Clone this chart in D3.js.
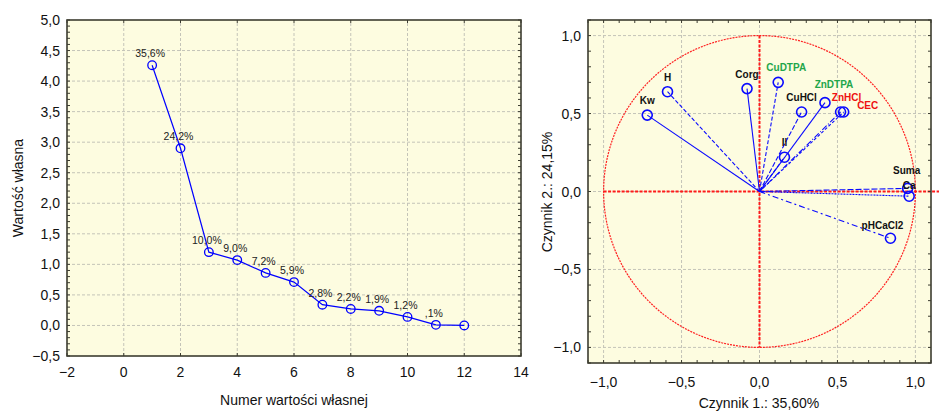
<!DOCTYPE html>
<html>
<head>
<meta charset="utf-8">
<script src="https://cdn.jsdelivr.net/npm/d3@7"></script>
<style>
  body { margin: 0; background: #fff; }
  svg { font-family: "Liberation Sans", Arial, sans-serif; }
</style>
</head>
<body>
<svg id="chart" width="939" height="412"></svg>
<script>
// scree plot data
const eigenNumbers = [1, 2, 3, 4, 5, 6, 7, 8, 9, 10, 11, 12];
const eigenValues = [4.26, 2.90, 1.20, 1.07, 0.86, 0.71, 0.34, 0.27, 0.24, 0.14, 0.01, 0.00];
const percentLabels = ["35,6%", "24,2%", "10,0%", "9,0%", "7,2%", "5,9%", "2,8%", "2,2%", "1,9%", "1,2%", ",1%", ""];
const screeXTicks = [-2, 0, 2, 4, 6, 8, 10, 12, 14];
const screeYTicks = [-0.5, 0, 0.5, 1, 1.5, 2, 2.5, 3, 3.5, 4, 4.5, 5];

// factor loadings
const varNames = ["Kw", "H", "Corg", "CuDTPA", "CuHCl", "ZnDTPA", "ZnHCl", "CEC", "Il", "Suma", "Ca", "pHCaCl2"];
const factor1 = [-0.72, -0.59, -0.08, 0.12, 0.27, 0.42, 0.52, 0.54, 0.16, 0.95, 0.96, 0.84];
const factor2 = [0.49, 0.64, 0.66, 0.70, 0.51, 0.57, 0.51, 0.51, 0.22, 0.02, -0.03, -0.30];
const loadTicks = [-1, -0.5, 0, 0.5, 1];

// label styling
const labelColor = { CuDTPA: "#1fa64a", ZnDTPA: "#1fa64a", ZnHCl: "#ee1111", CEC: "#ee1111" };
const labelNudge = { CuDTPA: [8, 0], ZnDTPA: [9, -4], ZnHCl: [6, 0], CEC: [24, 8], Suma: [-1, -3], Ca: [0, 4], pHCaCl2: [-8, 2] };
const lineDash = {
  Kw: null, H: "4,2", Corg: null, CuDTPA: "4,2", CuHCl: "5,2", ZnDTPA: null,
  ZnHCl: "6,2,1,2", CEC: "3,2", Il: "4,2", Suma: "6,2", Ca: "2,1", pHCaCl2: "6,3,2,3"
};

const svg = d3.select("#chart");
const fmt = (v, d) => (v < 0 ? "\u2212" : "") + Math.abs(v).toFixed(d).replace(".", ",");
const plotBg = "#fdfce0";
const frameColor = "#3c3c30";
const gridColor = "#c4c4b8";

function frame(g, x, y, xMinor, yMinor) {
  const [x0, x1] = x.range();
  const [y0, y1] = y.range();
  g.append("rect").attr("x", x0).attr("y", y1).attr("width", x1 - x0).attr("height", y0 - y1)
    .attr("fill", plotBg);
  return () => {
    // inward minor ticks on all four sides
    const t = g.append("g").attr("stroke", frameColor).attr("stroke-width", 1);
    xMinor.forEach(v => {
      t.append("line").attr("x1", x(v)).attr("x2", x(v)).attr("y1", y1).attr("y2", y1 + 3);
      t.append("line").attr("x1", x(v)).attr("x2", x(v)).attr("y1", y0).attr("y2", y0 - 3);
    });
    yMinor.forEach(v => {
      t.append("line").attr("y1", y(v)).attr("y2", y(v)).attr("x1", x0).attr("x2", x0 + 3);
      t.append("line").attr("y1", y(v)).attr("y2", y(v)).attr("x1", x1).attr("x2", x1 - 3);
    });
    g.append("rect").attr("x", x0).attr("y", y1).attr("width", x1 - x0).attr("height", y0 - y1)
      .attr("fill", "none").attr("stroke", frameColor).attr("stroke-width", 1.6);
  };
}

// ---------- left: scree plot ----------
{
  const x = d3.scaleLinear().domain([-2, 14]).range([67, 521]);
  const y = d3.scaleLinear().domain([-0.5, 5]).range([356, 20]);
  const g = svg.append("g");
  const finish = frame(g, x, y, screeXTicks, d3.range(-5, 51).map(i => i / 10));

  const grid = g.append("g").attr("stroke", gridColor).attr("stroke-dasharray", "3,2").attr("stroke-width", 1);
  screeXTicks.slice(1, -1).forEach(v => grid.append("line").attr("x1", x(v)).attr("x2", x(v)).attr("y1", y(-0.5)).attr("y2", y(5)));
  screeYTicks.slice(1, -1).forEach(v => grid.append("line").attr("y1", y(v)).attr("y2", y(v)).attr("x1", x(-2)).attr("x2", x(14)));

  const line = d3.line().x((d, i) => x(eigenNumbers[i])).y(d => y(d));
  g.append("path").datum(eigenValues).attr("d", line).attr("fill", "none").attr("stroke", "#0000ff").attr("stroke-width", 1.2);

  g.selectAll("circle.pt").data(eigenValues).enter().append("circle")
    .attr("cx", (d, i) => x(eigenNumbers[i])).attr("cy", d => y(d)).attr("r", 4.3)
    .attr("fill", "none").attr("stroke", "#0000ff").attr("stroke-width", 1.3);

  g.selectAll("text.pct").data(percentLabels).enter().append("text")
    .attr("x", (d, i) => x(eigenNumbers[i]) - 2).attr("y", (d, i) => y(eigenValues[i]) - 8)
    .attr("text-anchor", "middle").attr("font-size", 10.5).attr("fill", "#222").text(d => d);

  finish();

  g.selectAll("text.xt").data(screeXTicks).enter().append("text")
    .attr("x", d => x(d)).attr("y", 377).attr("text-anchor", "middle").attr("font-size", 14).attr("fill", "#111")
    .text(d => (d < 0 ? "\u2212" : "") + Math.abs(d));
  g.selectAll("text.yt").data(screeYTicks).enter().append("text")
    .attr("x", 60).attr("y", d => y(d) + 5).attr("text-anchor", "end").attr("font-size", 14).attr("fill", "#111")
    .text(d => fmt(d, 1));

  g.append("text").attr("x", 294).attr("y", 405).attr("text-anchor", "middle").attr("font-size", 14).attr("fill", "#111")
    .text("Numer wartości własnej");
  g.append("text").attr("transform", "translate(23,188) rotate(-90)").attr("text-anchor", "middle")
    .attr("font-size", 14).attr("fill", "#111").text("Wartość własna");
}

// ---------- right: factor loadings ----------
{
  const x = d3.scaleLinear().domain([-1.1, 1.1]).range([588, 931]);
  const y = d3.scaleLinear().domain([-1.1, 1.1]).range([363, 20]);
  const g = svg.append("g");
  const minor = d3.range(-11, 12).map(i => i / 10);
  const finish = frame(g, x, y, minor, minor);

  const grid = g.append("g").attr("stroke", gridColor).attr("stroke-dasharray", "3,2").attr("stroke-width", 1);
  loadTicks.forEach(v => {
    grid.append("line").attr("x1", x(v)).attr("x2", x(v)).attr("y1", y(-1.1)).attr("y2", y(1.1));
    grid.append("line").attr("y1", y(v)).attr("y2", y(v)).attr("x1", x(-1.1)).attr("x2", x(1.1));
  });

  // unit circle and red axes
  const circle = d3.line().x(a => x(Math.cos(a))).y(a => y(Math.sin(a)));
  g.append("path").datum(d3.range(0, 361, 2).map(a => a * Math.PI / 180)).attr("d", circle)
    .attr("fill", "none").attr("stroke", "#ff2020").attr("stroke-width", 1.2).attr("stroke-dasharray", "2,1");
  g.append("line").attr("x1", x(-1)).attr("x2", 939).attr("y1", y(0)).attr("y2", y(0))
    .attr("stroke", "#ff1a1a").attr("stroke-width", 2).attr("stroke-dasharray", "3,1.5");
  g.append("line").attr("x1", x(0)).attr("x2", x(0)).attr("y1", y(1)).attr("y2", y(-1))
    .attr("stroke", "#ff1a1a").attr("stroke-width", 2).attr("stroke-dasharray", "3,1.5");

  varNames.forEach((name, i) => {
    g.append("line").attr("x1", x(0)).attr("y1", y(0)).attr("x2", x(factor1[i])).attr("y2", y(factor2[i]))
      .attr("stroke", "#0a0aff").attr("stroke-width", 1.1).attr("stroke-dasharray", lineDash[name]);
  });
  varNames.forEach((name, i) => {
    g.append("circle").attr("cx", x(factor1[i])).attr("cy", y(factor2[i])).attr("r", 5)
      .attr("fill", "none").attr("stroke", "#0a0aff").attr("stroke-width", 1.6);
  });
  varNames.forEach((name, i) => {
    const [dx, dy] = labelNudge[name] || [0, 0];
    g.append("text").attr("x", x(factor1[i]) + dx).attr("y", y(factor2[i]) - 11 + dy)
      .attr("text-anchor", "middle").attr("font-size", 10).attr("font-weight", "bold")
      .attr("fill", labelColor[name] || "#111").text(name);
  });

  finish();

  g.selectAll("text.xt").data(loadTicks).enter().append("text")
    .attr("x", d => x(d)).attr("y", 387).attr("text-anchor", "middle").attr("font-size", 14).attr("fill", "#111")
    .text(d => fmt(d, 1));
  g.selectAll("text.yt").data(loadTicks).enter().append("text")
    .attr("x", 581).attr("y", d => y(d) + 5).attr("text-anchor", "end").attr("font-size", 14).attr("fill", "#111")
    .text(d => fmt(d, 1));

  g.append("text").attr("x", 759).attr("y", 408).attr("text-anchor", "middle").attr("font-size", 14).attr("fill", "#111")
    .text("Czynnik 1.: 35,60%");
  g.append("text").attr("transform", "translate(552,192) rotate(-90)").attr("text-anchor", "middle")
    .attr("font-size", 14).attr("fill", "#111").text("Czynnik 2.: 24,15%");
}
</script>
</body>
</html>
